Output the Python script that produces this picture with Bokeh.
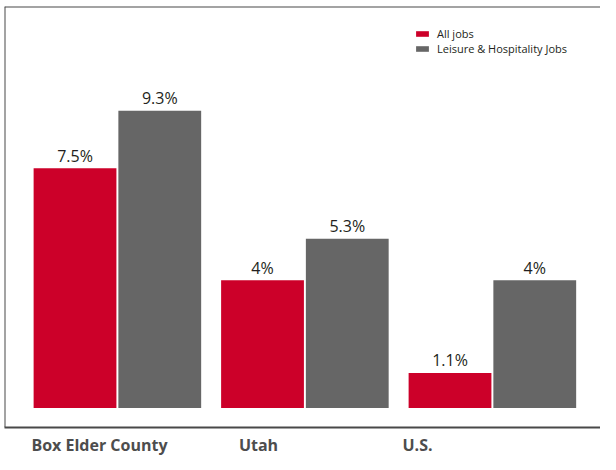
from bokeh.plotting import figure
from bokeh.models import Range1d, LinearAxis, FixedTicker, Span, ColumnDataSource
from bokeh.transform import dodge
from bokeh.core.properties import value
from bokeh.embed import file_html
from bokeh.resources import INLINE

# ---- data ----
regions = ["Box Elder County", "Utah", "U.S."]
all_jobs = [7.5, 4.0, 1.1]
leisure_jobs = [9.3, 5.3, 4.0]
all_labels = ["7.5%", "4%", "1.1%"]
leisure_labels = ["9.3%", "5.3%", "4%"]
series_names = ["All jobs", "Leisure & Hospitality Jobs"]

RED = "#cc0029"
GRAY = "#666666"
BORDER = "#484848"
FONT = "Open Sans"

idx = list(range(len(regions)))
src = ColumnDataSource(dict(x=idx, all=all_jobs, lei=leisure_jobs,
                            all_lab=all_labels, lei_lab=leisure_labels))

x_rng = Range1d(-0.6021, 2.5766)
y_rng = Range1d(-0.607, 12.561)

p = figure(frame_width=596, frame_height=421, x_range=x_rng, y_range=y_rng,
           output_backend="svg", toolbar_location=None,
           x_axis_location=None, y_axis_location=None,
           min_border_left=4, min_border_right=0, min_border_top=6, min_border_bottom=0)
p.outline_line_color = None
p.background_fill_color = "white"
p.border_fill_color = "white"
p.xgrid.visible = False
p.ygrid.visible = False

OFF = 0.226
W = 0.4416
p.vbar(x=dodge("x", -OFF, range=x_rng), top="all", bottom=0, width=W, source=src,
       fill_color=RED, line_color=None, legend_label=series_names[0])
p.vbar(x=dodge("x", OFF, range=x_rng), top="lei", bottom=0, width=W, source=src,
       fill_color=GRAY, line_color=None, legend_label=series_names[1])

for off, col, lab in [(-OFF, "all", "all_lab"), (OFF, "lei", "lei_lab")]:
    p.text(x=dodge("x", off, range=x_rng), y=col, text=lab, source=src,
           text_align="center", text_baseline="alphabetic", y_offset=-12.5,
           text_font=value(FONT), text_font_size="16px", text_color="#231f20")

# group labels axis (also forms bottom border)
p.extra_x_ranges = {"labels": Range1d(-0.5975, 3.151)}
ax = LinearAxis(x_range_name="labels", ticker=FixedTicker(ticks=idx),
                major_label_overrides={i: r for i, r in enumerate(regions)})
ax.major_tick_line_color = None
ax.minor_tick_line_color = None
ax.axis_line_color = BORDER
ax.axis_line_width = 2
ax.major_label_standoff = 0
ax.major_label_text_font = FONT
ax.major_label_text_font_style = "bold"
ax.major_label_text_font_size = "16px"
ax.major_label_text_color = "#4d4d4d"
p.add_layout(ax, "below")

# top & left borders
p.add_layout(Span(location=y_rng.end, dimension="width", line_color=BORDER, line_width=2))
p.add_layout(Span(location=x_rng.start, dimension="height", line_color=BORDER, line_width=2))

lg = p.legend[0]
lg.location = (410, 371)
lg.border_line_color = None
lg.background_fill_alpha = 0
lg.label_text_font = FONT
lg.label_text_font_size = "11px"
lg.label_text_color = "#231f20"
lg.glyph_width = 16
lg.glyph_height = 7
lg.label_height = 11
lg.spacing = -5
lg.padding = 4
lg.margin = 0
lg.label_standoff = 7

open("out.html", "w").write(file_html(p, INLINE))
